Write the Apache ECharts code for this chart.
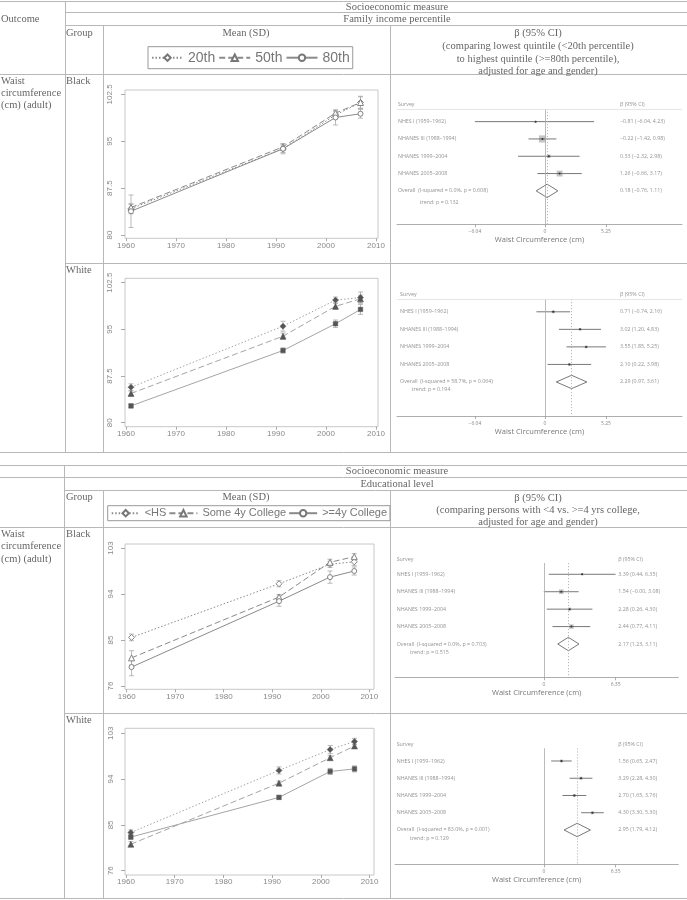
<!DOCTYPE html>
<html><head><meta charset="utf-8">
<script src="https://cdn.jsdelivr.net/npm/echarts@6/dist/echarts.min.js"></script>
<style>html,body{margin:0;padding:0;background:#fff}#c{width:687px;height:900px}</style>
</head><body><div id="c"></div>
<script>
// ================= DATA =================
const years = [1961, 1991.4, 2001.9, 2006.9];
const yearTicks = [1960, 1970, 1980, 1990, 2000, 2010];
const incomeGroups = ['20th', '50th', '80th'];
const eduGroups = ['<HS', 'Some 4y College', '>=4y College'];
const incYTicks = [80, 87.5, 95, 102.5];
const eduYTicks = [76, 85, 94, 103];

// Family income, Black: mean and half-width of bars
const incBlack20 = [84.2, 93.8, 99.2, 101.2];
const incBlack20Err = [0.8, 0.6, 0.6, 1.0];
const incBlack50 = [84.4, 94.1, 99.5, 101.2];
const incBlack50Err = [0.5, 0.5, 0.5, 0.9];
const incBlack80 = [83.8, 93.8, 98.8, 99.4];
const incBlack80Err = [2.6, 0.8, 1.2, 0.7];
// Family income, White
const incWhite20 = [85.7, 95.5, 99.7, 100.1];
const incWhite20Err = [0.55, 0.8, 0.5, 0.9];
const incWhite50 = [84.7, 93.9, 98.7, 99.9];
const incWhite50Err = [0.4, 0.5, 0.5, 0.6];
const incWhite80 = [82.7, 91.6, 95.9, 98.2];
const incWhite80Err = [0.3, 0.4, 0.6, 0.8];
// Education, Black
const eduBlackHS = [85.5, 96.0, 99.8, 100.3];
const eduBlackHSErr = [0.65, 0.6, 0.6, 0.7];
const eduBlackSome = [81.5, 93.4, 100.2, 101.3];
const eduBlackSomeErr = [1.4, 0.5, 0.6, 0.6];
const eduBlackCol = [79.7, 92.6, 97.3, 98.5];
const eduBlackColErr = [1.7, 1.0, 1.2, 0.8];
// Education, White
const eduWhiteHS = [83.5, 95.7, 99.8, 101.4];
const eduWhiteHSErr = [0.5, 0.7, 0.8, 0.6];
const eduWhiteSome = [81.2, 93.2, 98.2, 100.5];
const eduWhiteSomeErr = [0.5, 0.4, 0.4, 0.4];
const eduWhiteCol = [82.6, 90.4, 95.5, 96.0];
const eduWhiteColErr = [0.4, 0.4, 0.6, 0.6];

// Forest plots
const surveys = ['NHES I (1959–1962)', 'NHANES III (1988–1994)', 'NHANES 1999–2004', 'NHANES 2005–2008'];
const incForestTicks = [-6.04, 0, 5.25];
const eduForestTicks = [0, 6.35];

const fIncBlackEst = [-0.81, -0.22, 0.33, 1.26];
const fIncBlackLo = [-6.04, -1.42, -2.32, -0.66];
const fIncBlackHi = [4.23, 0.98, 2.98, 3.17];
const fIncBlackW = [3, 50, 12, 35];
const fIncBlackOverall = [0.18, -0.76, 1.11];
const fIncBlackHet = 'Overall  (I-squared = 0.0%, p = 0.608)';
const fIncBlackTrend = 'trend: p = 0.132';

const fIncWhiteEst = [0.71, 3.02, 3.55, 2.10];
const fIncWhiteLo = [-0.74, 1.20, 1.85, 0.22];
const fIncWhiteHi = [2.16, 4.83, 5.25, 3.98];
const fIncWhiteW = [30, 22, 25, 23];
const fIncWhiteOverall = [2.29, 0.97, 3.61];
const fIncWhiteHet = 'Overall  (I-squared = 58.7%, p = 0.064)';
const fIncWhiteTrend = 'trend: p = 0.194';

const fEduBlackEst = [3.39, 1.54, 2.28, 2.44];
const fEduBlackLo = [0.44, -0.004, 0.26, 0.77];
const fEduBlackHi = [6.35, 3.08, 4.30, 4.11];
const fEduBlackW = [8, 38, 18, 36];
const fEduBlackOverall = [2.17, 1.23, 3.11];
const fEduBlackHet = 'Overall  (I-squared = 0.0%, p = 0.703)';
const fEduBlackTrend = 'trend: p = 0.515';

const fEduWhiteEst = [1.56, 3.29, 2.70, 4.30];
const fEduWhiteLo = [0.65, 2.28, 1.65, 3.30];
const fEduWhiteHi = [2.47, 4.30, 3.76, 5.30];
const fEduWhiteW = [25, 25, 25, 25];
const fEduWhiteOverall = [2.95, 1.79, 4.12];
const fEduWhiteHet = 'Overall  (I-squared = 83.0%, p = 0.001)';
const fEduWhiteTrend = 'trend: p = 0.129';

// ================= RENDER =================
const SERIF = '"Liberation Serif", "Times New Roman", serif';
const SANS = '"Liberation Sans", Arial, sans-serif';
const FF = '"Open Sans", "DejaVu Sans", sans-serif';
const TXT = '#666';
const RULE = '#b8b8b8';

const grids = [], xAxes = [], yAxes = [], series = [];

function fmt(v) { return (v < 0 ? '\u2212' : '') + Math.abs(v).toFixed(2); }

const lineStyles = [
  { type: [1.5, 2], symbol: 'diamond', size: 6 },
  { type: [6, 3], symbol: 'triangle', size: 6 },
  { type: 'solid', symbol: 'circle', size: 5 }
];

function addLinePanel(p, groups) {
  const gi = grids.length;
  grids.push({ left: p.left, top: p.top, width: p.width, height: p.height, show: true,
    borderColor: '#c8c8c8', borderWidth: 1, backgroundColor: 'transparent' });
  xAxes.push({ type: 'value', gridIndex: gi, min: p.xMin, max: p.xMax,
    splitLine: { show: false }, axisLine: { show: false, onZero: false },
    axisTick: { show: true, customValues: yearTicks, length: 3, lineStyle: { color: '#aaa' } },
    axisLabel: { customValues: yearTicks, formatter: v => String(Math.round(v)), margin: 3, fontSize: 8, color: '#888', fontFamily: SANS } });
  yAxes.push({ type: 'value', gridIndex: gi, min: p.yMin, max: p.yMax,
    splitLine: { show: false }, axisLine: { show: false, onZero: false },
    axisTick: { show: true, customValues: p.yTicks, length: 4, lineStyle: { color: '#aaa' } },
    axisLabel: { customValues: p.yTicks, formatter: v => String(v), rotate: 90, margin: p.labelMargin, fontSize: 8, color: '#888', fontFamily: SANS } });
  groups.forEach((s, k) => {
    const st = lineStyles[k];
    series.push({ type: 'custom', xAxisIndex: gi, yAxisIndex: gi, silent: true, z: 2,
      data: years.map((yr, i) => [yr, s.mean[i] - s.err[i], s.mean[i] + s.err[i]]),
      renderItem: (params, api) => {
        const lo = api.coord([api.value(0), api.value(1)]);
        const hi = api.coord([api.value(0), api.value(2)]);
        const c = 2.5, sty = { stroke: '#a8a8a8', lineWidth: 0.8 };
        return { type: 'group', children: [
          { type: 'line', shape: { x1: lo[0], y1: lo[1], x2: hi[0], y2: hi[1] }, style: sty },
          { type: 'line', shape: { x1: lo[0] - c, y1: lo[1], x2: lo[0] + c, y2: lo[1] }, style: sty },
          { type: 'line', shape: { x1: hi[0] - c, y1: hi[1], x2: hi[0] + c, y2: hi[1] }, style: sty }
        ] };
      } });
    let sym = st.symbol;
    if (!p.hollow && sym === 'circle') sym = 'rect';
    series.push({ type: 'line', name: s.name, xAxisIndex: gi, yAxisIndex: gi, z: 3,
      data: years.map((yr, i) => [yr, s.mean[i]]),
      symbol: sym, symbolSize: sym === 'rect' ? 4.5 : st.size, showAllSymbol: true,
      lineStyle: { color: p.hollow ? '#8a8a8a' : '#a5a5a5', width: 1, type: st.type },
      itemStyle: p.hollow ? { color: '#fff', borderColor: '#777', borderWidth: 0.9 }
                          : { color: '#555', borderColor: '#555', borderWidth: 0.5 } });
  });
}

function addForestPanel(p, f) {
  const gi = grids.length;
  grids.push({ left: p.left, top: p.top, width: p.width, height: p.height, show: false });
  xAxes.push({ type: 'value', gridIndex: gi, min: p.xMin, max: p.xMax, splitLine: { show: false },
    axisLine: { show: true, onZero: false, lineStyle: { color: '#999', width: 0.8 } },
    axisTick: { show: true, customValues: p.ticks, length: 3, lineStyle: { color: '#999', width: 0.8 } },
    axisLabel: { customValues: p.ticks, formatter: v => (Math.abs(v) < 1e-9 ? '0' : fmt(v)),
      fontSize: 5, color: '#888', fontFamily: FF, margin: 5 },
    name: 'Waist Circumference (cm)', nameLocation: 'middle', nameGap: 12,
    nameTextStyle: { fontSize: 7.5, color: '#777', fontFamily: FF } });
  yAxes.push({ type: 'value', gridIndex: gi, min: p.yMin, max: p.yMax, inverse: true, show: false,
    axisLine: { onZero: false } });

  series.push({ type: 'custom', xAxisIndex: gi, yAxisIndex: gi, silent: true, z: 3,
    data: surveys.map((s, i) => [f.est[i], i + 1, f.lo[i], f.hi[i], f.w[i]]),
    renderItem: (params, api) => {
      const row = api.value(1);
      const pE = api.coord([api.value(0), row]);
      const pL = api.coord([api.value(2), row]);
      const pH = api.coord([api.value(3), row]);
      const s = p.boxScale * Math.sqrt(api.value(4));
      return { type: 'group', children: [
        { type: 'rect', shape: { x: pE[0] - s / 2, y: pE[1] - s / 2, width: s, height: s }, style: { fill: '#c4c4c4' } },
        { type: 'line', shape: { x1: pL[0], y1: pL[1], x2: pH[0], y2: pH[1] }, style: { stroke: '#555', lineWidth: 0.8 } },
        { type: 'circle', shape: { cx: pE[0], cy: pE[1], r: 1 }, style: { fill: '#333' } }
      ] };
    } });
  series.push({ type: 'custom', xAxisIndex: gi, yAxisIndex: gi, silent: true, z: 3,
    data: [[f.overall[0], 5, f.overall[1], f.overall[2]]],
    renderItem: (params, api) => {
      const row = api.value(1);
      const pE = api.coord([api.value(0), row]);
      const pL = api.coord([api.value(2), row]);
      const pH = api.coord([api.value(3), row]);
      const h = 6.7;
      return { type: 'polygon', shape: { points: [[pL[0], pL[1]], [pE[0], pE[1] - h], [pH[0], pH[1]], [pE[0], pE[1] + h]] },
        style: { fill: '#fff', stroke: '#555', lineWidth: 0.8 } };
    } });
  const texts = [
    { value: [p.labelX, p.headerRow], name: 'Survey' },
    { value: [p.rightX, p.headerRow], name: 'β (95% CI)' }
  ];
  surveys.forEach((s, i) => {
    texts.push({ value: [p.labelX, i + 1], name: s });
    texts.push({ value: [p.rightX, i + 1], name: fmt(f.est[i]) + ' (' + fmt(f.lo[i]) + ', ' + fmt(f.hi[i]) + ')' });
  });
  texts.push({ value: [p.labelX, 5], name: f.het });
  texts.push({ value: [p.rightX, 5], name: fmt(f.overall[0]) + ' (' + fmt(f.overall[1]) + ', ' + fmt(f.overall[2]) + ')' });
  texts.push({ value: [p.trendX, p.trendRow], name: f.trend });
  series.push({ type: 'scatter', xAxisIndex: gi, yAxisIndex: gi, silent: true, clip: false, z: 4,
    symbolSize: 0, data: texts,
    label: { show: true, position: 'right', distance: 0, formatter: '{b}', fontSize: 5.3,
      color: '#777', fontFamily: FF },
    markLine: { silent: true, symbol: ['none', 'none'], label: { show: false }, animation: false,
      data: [
        { xAxis: 0, lineStyle: { type: 'solid', color: '#aaa', width: 0.8 } },
        { xAxis: f.overall[0], lineStyle: { type: [1.2, 1.8], color: '#b0a8a0', width: 0.8 } },
        { yAxis: p.yMin, lineStyle: { type: 'solid', color: '#e0e0e0', width: 0.8 } }
      ] } });
}

addLinePanel({ left: 125, top: 90, width: 253, height: 148.3, xMin: 1959.8, xMax: 2010.4, yMin: 79.47, yMax: 103.2,
  yTicks: incYTicks, labelMargin: 11, hollow: true }, [
  { name: incomeGroups[0], mean: incBlack20, err: incBlack20Err },
  { name: incomeGroups[1], mean: incBlack50, err: incBlack50Err },
  { name: incomeGroups[2], mean: incBlack80, err: incBlack80Err }]);
addLinePanel({ left: 125, top: 278.3, width: 253, height: 148.4, xMin: 1959.8, xMax: 2010.4, yMin: 79.36, yMax: 103.2,
  yTicks: incYTicks, labelMargin: 11, hollow: false }, [
  { name: incomeGroups[0], mean: incWhite20, err: incWhite20Err },
  { name: incomeGroups[1], mean: incWhite50, err: incWhite50Err },
  { name: incomeGroups[2], mean: incWhite80, err: incWhite80Err }]);
addLinePanel({ left: 125, top: 544, width: 249, height: 145.3, xMin: 1959.65, xMax: 2010.97, yMin: 75.35, yMax: 103.78,
  yTicks: eduYTicks, labelMargin: 10, hollow: true }, [
  { name: eduGroups[0], mean: eduBlackHS, err: eduBlackHSErr },
  { name: eduGroups[1], mean: eduBlackSome, err: eduBlackSomeErr },
  { name: eduGroups[2], mean: eduBlackCol, err: eduBlackColErr }]);
addLinePanel({ left: 125, top: 728.3, width: 249, height: 146.7, xMin: 1959.8, xMax: 2010.9, yMin: 75.15, yMax: 103.98,
  yTicks: eduYTicks, labelMargin: 10, hollow: false }, [
  { name: eduGroups[0], mean: eduWhiteHS, err: eduWhiteHSErr },
  { name: eduGroups[1], mean: eduWhiteSome, err: eduWhiteSomeErr },
  { name: eduGroups[2], mean: eduWhiteCol, err: eduWhiteColErr }]);

addForestPanel({ left: 397, top: 109, width: 285, height: 115.3, xMin: -12.76, xMax: 11.81, yMin: 0.27, yMax: 6.93,
  ticks: incForestTicks, labelX: -12.68, rightX: 6.47, trendX: -10.8, trendRow: 5.65, headerRow: 0.036, boxScale: 1.0 },
  { est: fIncBlackEst, lo: fIncBlackLo, hi: fIncBlackHi, w: fIncBlackW, overall: fIncBlackOverall, het: fIncBlackHet, trend: fIncBlackTrend });
addForestPanel({ left: 397, top: 299, width: 285, height: 117, xMin: -12.76, xMax: 11.81, yMin: 0.27, yMax: 6.94,
  ticks: incForestTicks, labelX: -12.5, rightX: 6.47, trendX: -11.5, trendRow: 5.42, headerRow: 0.036, boxScale: 0.55 },
  { est: fIncWhiteEst, lo: fIncWhiteLo, hi: fIncWhiteHi, w: fIncWhiteW, overall: fIncWhiteOverall, het: fIncWhiteHet, trend: fIncWhiteTrend });
addForestPanel({ left: 395, top: 563, width: 283.3, height: 114.3, xMin: -13.17, xMax: 11.9, yMin: 0.352, yMax: 6.91,
  ticks: eduForestTicks, labelX: -13.02, rightX: 6.59, trendX: -11.84, trendRow: 5.47, headerRow: 0.14, boxScale: 0.75 },
  { est: fEduBlackEst, lo: fEduBlackLo, hi: fEduBlackHi, w: fEduBlackW, overall: fEduBlackOverall, het: fEduBlackHet, trend: fEduBlackTrend });
addForestPanel({ left: 395, top: 748.3, width: 283.3, height: 116, xMin: -13.17, xMax: 11.9, yMin: 0.264, yMax: 6.99,
  ticks: eduForestTicks, labelX: -13.02, rightX: 6.59, trendX: -11.84, trendRow: 5.48, headerRow: 0.032, boxScale: 0.6 },
  { est: fEduWhiteEst, lo: fEduWhiteLo, hi: fEduWhiteHi, w: fEduWhiteW, overall: fEduWhiteOverall, het: fEduWhiteHet, trend: fEduWhiteTrend });

const graphics = [];
function hl(y, x1, x2) { graphics.push({ type: 'line', silent: true, shape: { x1: x1, y1: y, x2: x2, y2: y }, style: { stroke: RULE, lineWidth: 1 } }); }
function vl(x, y1, y2) { graphics.push({ type: 'line', silent: true, shape: { x1: x, y1: y1, x2: x, y2: y2 }, style: { stroke: RULE, lineWidth: 1 } }); }
function tx(t, x, y, align) { graphics.push({ type: 'text', silent: true, x: x, y: y,
  style: { text: t, fontSize: 10.5, fontFamily: SERIF, fill: TXT, align: align || 'left', verticalAlign: 'middle' } }); }

// table 1
hl(1.5, 0, 687); hl(12.5, 65, 687); hl(25.5, 65, 687); hl(74.5, 0, 687); hl(263.5, 65, 687); hl(452.5, 0, 687);
vl(65.5, 1.5, 452.5); vl(103.5, 25.5, 452.5); vl(390.5, 25.5, 452.5);
tx('Outcome', 1, 19.3);
tx('Socioeconomic measure', 397, 6.8, 'center');
tx('Family income percentile', 397, 19, 'center');
tx('Group', 66, 33.3);
tx('Mean (SD)', 246, 33.3, 'center');
tx('β (95% CI)', 538, 33.3, 'center');
tx('(comparing lowest quintile (<20th percentile)', 538, 46.3, 'center');
tx('to highest quintile (>=80th percentile),', 538, 58.8, 'center');
tx('adjusted for age and gender)', 538, 70.8, 'center');
tx('Waist', 1, 81); tx('circumference', 1, 93.3); tx('(cm) (adult)', 1, 105.5);
tx('Black', 66, 81); tx('White', 66, 270);

// table 2
hl(465.5, 0, 687); hl(477.5, 0, 687); hl(490.5, 64, 687); hl(527.5, 0, 687); hl(713.5, 64, 687); hl(898.5, 0, 687);
vl(64.5, 465.5, 898.5); vl(103.5, 490.5, 898.5); vl(390.5, 490.5, 898.5);
tx('Socioeconomic measure', 397, 471.7, 'center');
tx('Educational level', 397, 484, 'center');
tx('Group', 66, 497.3);
tx('Mean (SD)', 246, 497.3, 'center');
tx('β (95% CI)', 538, 498, 'center');
tx('(comparing persons with <4 vs. >=4 yrs college,', 538, 510, 'center');
tx('adjusted for age and gender)', 538, 522, 'center');
tx('Waist', 1, 534.3); tx('circumference', 1, 546.7); tx('(cm) (adult)', 1, 559);
tx('Black', 66, 534.3); tx('White', 66, 720);

const chart = echarts.init(document.getElementById('c'), null, { renderer: 'canvas', width: 687, height: 900 });
chart.setOption({
  animation: false,
  backgroundColor: '#fff',
  grid: grids, xAxis: xAxes, yAxis: yAxes, series: series,
  legend: [
    { data: incomeGroups, left: 148, top: 46.7, orient: 'horizontal', borderColor: '#999', borderWidth: 1,
      padding: [4, 3, 4, 3], itemWidth: 31, itemHeight: 8, itemGap: 3, selectedMode: false,
      textStyle: { fontSize: 14, fontFamily: SANS, color: '#777' } },
    { data: eduGroups, left: 107.7, top: 505.7, orient: 'horizontal', borderColor: '#999', borderWidth: 1,
      padding: [2, 3, 2, 3], itemWidth: 28, itemHeight: 8, itemGap: 2, selectedMode: false,
      textStyle: { fontSize: 11, fontFamily: SANS, color: '#777' } }
  ],
  graphic: graphics
});
</script></body></html>
